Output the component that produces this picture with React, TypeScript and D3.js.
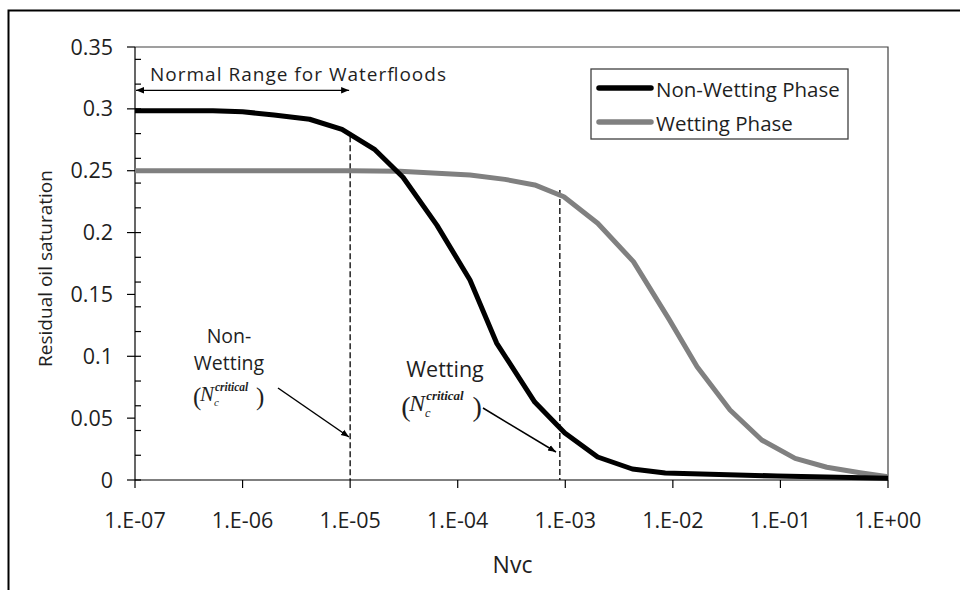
import React from "react";
import * as d3 from "d3";

const nonWettingN = [1e-7, 5.3e-7, 1e-6, 1.96e-6, 4.2e-6, 8.4e-6, 1.7e-5, 3.1e-5, 6.4e-5, 1.3e-4, 2.3e-4, 5.2e-4, 9.9e-4, 2.0e-3, 4.2e-3, 8.5e-3, 9.3e-2, 1];
const nonWettingSor = [0.2985, 0.2985, 0.2977, 0.295, 0.2916, 0.2835, 0.267, 0.2447, 0.206, 0.1617, 0.1107, 0.063, 0.038, 0.0186, 0.0089, 0.0057, 0.0032, 0.0015];

const wettingN = [1e-7, 1e-5, 2.9e-5, 1.3e-4, 2.75e-4, 5.2e-4, 9.7e-4, 2.0e-3, 4.3e-3, 9.2e-3, 1.68e-2, 3.4e-2, 6.7e-2, 1.37e-1, 2.7e-1, 5.5e-1, 1];
const wettingSor = [0.25, 0.25, 0.2495, 0.2466, 0.243, 0.2385, 0.229, 0.2075, 0.1765, 0.13, 0.0916, 0.0566, 0.0323, 0.0175, 0.0103, 0.0059, 0.0027];

const xTicks = [1e-7, 1e-6, 1e-5, 1e-4, 1e-3, 1e-2, 1e-1, 1];
const xTickLabels = ["1.E-07", "1.E-06", "1.E-05", "1.E-04", "1.E-03", "1.E-02", "1.E-01", "1.E+00"];
const yTicks = [0, 0.05, 0.1, 0.15, 0.2, 0.25, 0.3, 0.35];
const yTickLabels = ["0", "0.05", "0.1", "0.15", "0.2", "0.25", "0.3", "0.35"];
const yMinorTicks = [0, 0.02, 0.04, 0.06, 0.08, 0.1, 0.12, 0.14, 0.16, 0.18, 0.2, 0.22, 0.24, 0.26, 0.28, 0.3, 0.32, 0.34];

const seriesNames = ["Non-Wetting Phase", "Wetting Phase"];
const seriesColors = ["#000000", "#808080"];

// annotations (data coordinates)
const normalRange = [1e-7, 1e-5];
const normalRangeY = 0.315;
const critNonWetting = 1e-5;
const critNonWettingTop = 0.281;
const critWetting = 8.9e-4;
const critWettingTop = 0.236;

const FONT = "'Open Sans', sans-serif";
const MATH = "'Liberation Serif', 'DejaVu Serif', serif";
const TEXT = "#1f1f1f";

export default function App() {
  const left = 135, right = 888, top = 47, bottom = 480;
  const x = d3.scaleLog().domain([1e-7, 1]).range([left, right]);
  const y = d3.scaleLinear().domain([0, 0.35]).range([bottom, top]);

  const line = d3
    .line<[number, number]>()
    .x((d) => x(d[0]))
    .y((d) => y(d[1]));

  const nw = nonWettingN.map((n, i) => [n, nonWettingSor[i]] as [number, number]);
  const w = wettingN.map((n, i) => [n, wettingSor[i]] as [number, number]);

  const mathExpr = (cx: number, by: number, s: number) => (
    <g transform={`translate(${cx},${by}) scale(${s})`} fill={TEXT}>
      <text x={-36} y={4} fontFamily={MATH} fontSize={25}>
        (
      </text>
      <text x={-29} y={0} fontFamily={MATH} fontStyle="italic" fontSize={21}>
        N
      </text>
      <text x={-14} y={-10} fontFamily={MATH} fontStyle="italic" fontWeight="bold" fontSize={11.5}>
        critical
      </text>
      <text x={-15} y={5} fontFamily={MATH} fontStyle="italic" fontSize={11}>
        c
      </text>
      <text x={27} y={4} fontFamily={MATH} fontSize={25}>
        )
      </text>
    </g>
  );

  return (
    <svg
      width={960}
      height={590}
      style={{ position: "absolute", left: 0, top: 0, display: "block", background: "#fff" }}
    >
      <defs>
        <marker id="ah" viewBox="0 0 10 10" refX="10" refY="5" markerWidth="8" markerHeight="8" orient="auto-start-reverse" markerUnits="userSpaceOnUse">
          <path d="M0,1 L10,5 L0,9 z" fill="#000" />
        </marker>
      </defs>
      <rect x={0} y={0} width={960} height={590} fill="#fff" />
      {/* outer frame */}
      <path d="M8.5,600 L8.5,10.5 L970,10.5" fill="none" stroke="#000" strokeWidth={2} />

      {/* plot area border top/right */}
      <path d={`M${left},${top} L${right},${top} L${right},${bottom}`} fill="none" stroke="#404040" strokeWidth={1.2} />

      {/* y axis */}
      <line x1={left} x2={left} y1={top} y2={bottom} stroke="#000" strokeWidth={1.2} />
      {yTicks.map((t, i) => (
        <g key={"yt" + i}>
          <line x1={left - 8} x2={left} y1={y(t)} y2={y(t)} stroke="#000" strokeWidth={1.2} />
          <text x={113} y={y(t) + 7.5} textAnchor="end" fontFamily={FONT} fontSize={21.5} fill={TEXT}>
            {yTickLabels[i]}
          </text>
        </g>
      ))}
      {yMinorTicks.map((t, i) => (
        <line key={"ym" + i} x1={left} x2={left + 6} y1={y(t)} y2={y(t)} stroke="#000" strokeWidth={1.2} />
      ))}

      {/* x axis */}
      <line x1={left} x2={right} y1={bottom} y2={bottom} stroke="#000" strokeWidth={1.2} />
      {xTicks.map((t, i) => (
        <g key={"xt" + i}>
          <line x1={x(t)} x2={x(t)} y1={bottom} y2={bottom + 8} stroke="#000" strokeWidth={1.2} />
          <text x={x(t)} y={528} textAnchor="middle" fontFamily={FONT} fontSize={21.5} fill={TEXT}>
            {xTickLabels[i]}
          </text>
        </g>
      ))}

      {/* axis titles */}
      <text x={(left + right) / 2 + 1} y={573} textAnchor="middle" fontFamily={FONT} fontSize={23} fill={TEXT}>
        Nvc
      </text>
      <text
        transform={`translate(52,${(top + bottom) / 2 + 5}) rotate(-90)`}
        textAnchor="middle"
        fontFamily={FONT}
        fontSize={19}
        fill={TEXT}
      >
        Residual oil saturation
      </text>

      {/* dashed critical lines */}
      <line x1={x(critNonWetting)} x2={x(critNonWetting)} y1={y(critNonWettingTop) + 4} y2={bottom} stroke="#000" strokeWidth={1.3} strokeDasharray="6,3" />
      <line x1={x(critWetting)} x2={x(critWetting)} y1={y(critWettingTop) + 2} y2={bottom} stroke="#000" strokeWidth={1.3} strokeDasharray="6,3" />

      {/* series */}
      <path d={line(w) || ""} fill="none" stroke={seriesColors[1]} strokeWidth={5} strokeLinejoin="round" />
      <path d={line(nw) || ""} fill="none" stroke={seriesColors[0]} strokeWidth={5} strokeLinejoin="round" />

      {/* normal range */}
      <text x={150} y={81} fontFamily={FONT} fontSize={19} fill={TEXT} textLength={296} lengthAdjust="spacing">
        Normal Range for Waterfloods
      </text>
      <line
        x1={x(normalRange[0]) + 1}
        x2={x(normalRange[1]) - 1}
        y1={y(normalRangeY)}
        y2={y(normalRangeY)}
        stroke="#000"
        strokeWidth={1.3}
        markerStart="url(#ah)"
        markerEnd="url(#ah)"
      />

      {/* Non-wetting annotation */}
      <text x={229} y={343} textAnchor="middle" fontFamily={FONT} fontSize={19.5} fill={TEXT}>
        Non-
      </text>
      <text x={229} y={370} textAnchor="middle" fontFamily={FONT} fontSize={19.5} fill={TEXT}>
        Wetting
      </text>
      {mathExpr(229, 401, 1)}
      <line x1={278} y1={388} x2={349} y2={437} stroke="#000" strokeWidth={1.5} markerEnd="url(#ah)" />

      {/* Wetting annotation */}
      <text x={445} y={377} textAnchor="middle" fontFamily={FONT} fontSize={21.5} fill={TEXT}>
        Wetting
      </text>
      {mathExpr(442, 411, 1.13)}
      <line x1={483} y1={408} x2={556} y2={452} stroke="#000" strokeWidth={1.5} markerEnd="url(#ah)" />

      {/* legend */}
      <rect x={591} y={69} width={257} height={70} fill="#fff" stroke="#404040" strokeWidth={1.3} />
      {seriesNames.map((s, i) => (
        <g key={"lg" + i}>
          <line x1={599} x2={651} y1={88 + i * 34} y2={88 + i * 34} stroke={seriesColors[i]} strokeWidth={5.5} strokeLinecap="round" />
          <text x={656} y={97 + i * 34} fontFamily={FONT} fontSize={20.5} fill={TEXT}>
            {s}
          </text>
        </g>
      ))}
    </svg>
  );
}
